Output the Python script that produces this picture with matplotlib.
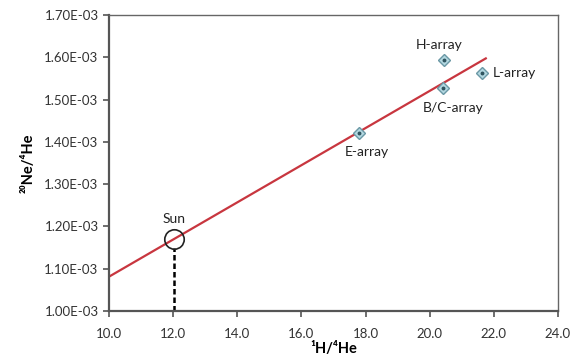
import matplotlib.pyplot as plt
from matplotlib.ticker import FuncFormatter, MultipleLocator

# data
array_names = ["H-array", "L-array", "B/C-array", "E-array"]
h_he = [20.44, 21.62, 20.42, 17.81]
ne_he = [1.594e-3, 1.5636e-3, 1.5267e-3, 1.420e-3]

sun_h_he = 12.03
sun_ne_he = 1.1695e-3

fit_x = [10.0, 21.75]
fit_y = [1.0813e-3, 1.5976e-3]

# label offsets in points (dx, dy, ha)
label_offsets = {
    "H-array": (-3, 11, "center"),
    "L-array": (8, 0, "left"),
    "B/C-array": (7, -14, "center"),
    "E-array": (5, -13, "center"),
}

plt.rcParams['font.family'] = ['Lato', 'DejaVu Sans']

fig = plt.figure(figsize=(5.83, 3.6), dpi=100)
ax = fig.add_axes([0.187, 0.136, 0.770, 0.822])

ax.plot(fit_x, fit_y, color='#c8363f', lw=1.6, zorder=2)

# dashed drop line from the Sun to the x axis
ax.plot([sun_h_he, sun_h_he], [1.0e-3, sun_ne_he - 0.02e-3], color='black',
        lw=1.8, ls=(0, (2.2, 1.2)), zorder=2)
ax.plot(sun_h_he, sun_ne_he, marker='o', ms=14, mfc='none', mec='#222222',
        mew=1.2, zorder=3)
ax.annotate("Sun", (sun_h_he, sun_ne_he), xytext=(0, 15), textcoords='offset points',
            ha='center', va='center', fontsize=10, color='#222222')

ax.plot(h_he, ne_he, ls='none', marker='D', ms=6.5, mfc='#b3d8e1', mec='#6a98a5',
        mew=1.0, zorder=4)
ax.plot(h_he, ne_he, ls='none', marker='o', ms=1.8, color='#2f5560', zorder=5)

for name, x, y in zip(array_names, h_he, ne_he):
    dx, dy, ha = label_offsets[name]
    ax.annotate(name, (x, y), xytext=(dx, dy), textcoords='offset points',
                ha=ha, va='center', fontsize=10, color='#222222')

ax.set_xlim(10, 24)
ax.set_ylim(1.0e-3, 1.7e-3)
ax.xaxis.set_major_locator(MultipleLocator(2))
ax.yaxis.set_major_locator(MultipleLocator(0.1e-3))
ax.xaxis.set_major_formatter(FuncFormatter(lambda v, p: f"{v:.1f}"))
ax.yaxis.set_major_formatter(FuncFormatter(lambda v, p: f"{v:.2E}"))

ax.tick_params(axis='both', direction='out', length=4, width=1.2, colors='#555555',
               labelcolor='#333333', labelsize=9.5)
ax.tick_params(axis='x', pad=8)
for side in ['left', 'bottom']:
    ax.spines[side].set_linewidth(1.6)
    ax.spines[side].set_color('#555555')
for side in ['top', 'right']:
    ax.spines[side].set_linewidth(1.0)
    ax.spines[side].set_color('#666666')

ax.set_xlabel("¹H/⁴He", fontsize=10.5, fontweight='bold', labelpad=2)
ax.set_ylabel("²⁰Ne/⁴He", fontsize=10.5, fontweight='bold', labelpad=6)

fig.savefig("out.png", dpi=100)
